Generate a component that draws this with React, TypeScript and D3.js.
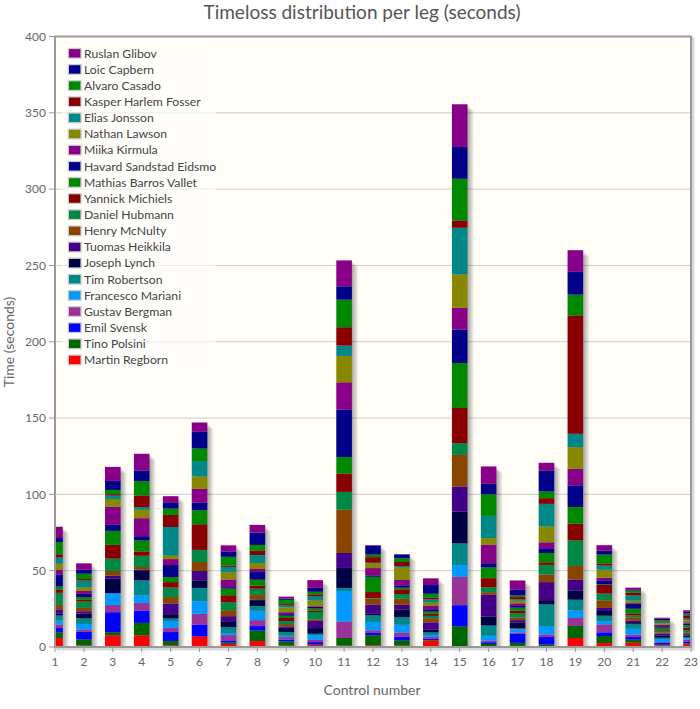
import React from 'react';
import * as d3 from 'd3';

const controls = [1,2,3,4,5,6,7,8,9,10,11,12,13,14,15,16,17,18,19,20,21,22,23];
const yTicks = [0,50,100,150,200,250,300,350,400];

// stacking order: bottom -> top
const runners = [
  'Martin Regborn','Tino Polsini','Emil Svensk','Gustav Bergman','Francesco Mariani',
  'Tim Robertson','Joseph Lynch','Tuomas Heikkila','Henry McNulty','Daniel Hubmann',
  'Yannick Michiels','Mathias Barros Vallet','Havard Sandstad Eidsmo','Miika Kirmula','Nathan Lawson',
  'Elias Jonsson','Kasper Harlem Fosser','Alvaro Casado','Loic Capbern','Ruslan Glibov'
];
const colors = [
  '#ff0000','#006600','#0000ff','#993399','#0099ff',
  '#008888','#000044','#440088','#884400','#008844',
  '#880000','#008800','#000088','#880088','#888800',
  '#008888','#880000','#008800','#000088','#880088'
];

const martin    = [5.9,1,7.7,7.7,1.1,7,2,3.9,0.9,1.3,0.9,1.1,0.9,4.2,0,0.3,0.7,0,5.9,2.6,2.8,1.1,2];
const tino      = [3.7,3.9,2,8.1,2.8,0,1,7,2.8,0.4,5,6.6,3.5,0.4,13.6,1.7,2,1.7,7.9,4.6,2,0.4,0.4];
const emil      = [2.8,5,13.1,7.9,5.9,7.7,1.3,2.8,1.1,1.5,0,1.5,2.2,0.7,13.8,1.1,5.9,4.8,0,2.4,1.7,1.3,1.3];
const gustav    = [2.2,1.5,4.8,5.2,2.8,7,3.5,3.9,1.7,1.5,10.9,1.7,2.8,1.3,18.6,1.1,0.9,1.7,5.2,5.2,1.7,0.4,1.1];
const francesco = [2.8,3.7,7.7,5,4.4,8.3,1.3,6.1,0.9,3.1,19.9,5.5,5.2,1.3,7.7,3.1,2,5.5,5,2,3.7,2,0.9];
const tim       = [3.3,3.7,0,9.8,1.7,8.7,3.9,3.1,2.4,0.9,2,4.4,5,1.7,14.2,6.8,0.7,14.2,7,3.7,3.3,0.9,0.9];
const joseph    = [1.1,3.1,9.4,6.1,2.8,5,3.9,3.9,2.8,3.7,13.1,0.9,5,1.7,20.8,5.9,3.7,2.8,6.1,3.1,1.1,1.3,0.9];
const tuomas    = [2.8,1.5,2,0.9,7,6.1,3.3,0.5,0.9,4.6,9.8,6.1,3.1,4.8,16.4,14.2,1.7,11.8,7,2,0.9,1.3,0.9];
const henry     = [3,2.2,3.1,1.7,4.2,5.9,3.9,2.8,1.5,1.1,28.4,3.9,3.9,2.8,20.8,1.7,1.7,5,9,5,2.2,0.9,0.9];
const daniel    = [7.9,4.2,8.1,7.4,6.3,7.9,5.2,4.2,2,4.8,11.6,0.4,3.1,1.5,7.7,3.3,2.8,6.3,16.8,4.4,1.3,1.1,1.7];
const yannick   = [2,1.1,9,2.8,3.5,16.8,4.6,2,2,0.9,12,3.9,3.1,1.3,23,5.9,1.7,1.7,10.9,5.7,1.3,0.9,1.7];
const mathias   = [2.2,1.7,9.2,7.2,3.3,9.2,4.4,3.9,1.5,1.5,10.9,10,1.1,1.5,29.5,7,2,6.1,10.9,0.4,3.1,1.1,1.5];
const havard    = [7.9,2.2,3.9,2.8,7.9,5,0.9,5,1,0.9,31,0.9,1.5,1.5,21.9,2.8,1.1,3.1,14.2,2.6,3.3,0.9,1.1];
const miika     = [3,2,11.8,11.8,3.9,9,5,2,1.3,0.5,17.9,4.8,3.5,2.2,14.2,12,1.7,3.9,10.9,1.7,0.4,0.9,0.9];
const nathan    = [3.9,2.4,5.2,5.5,2.2,8.1,5,3.9,3.1,3.7,17.3,3.1,8.1,2.2,21.9,4.4,1.7,10.3,14.2,5.2,1.7,1.1,1.3];
const elias     = [4.2,4.4,2.2,1.7,18.8,10.1,3.3,5.2,1.3,2.8,6.8,0.4,0.9,2.2,30.6,14.6,0.9,14.9,8.7,2.8,3.3,0.9,1.1];
const kasper    = [2,0.9,0.9,7.7,7.9,0,0.9,2.8,0.9,1.3,12,3.7,2.8,1,4.8,0,1.5,3.7,77.6,1.1,1.7,0.4,2.2];
const alvaro    = [8.1,3.5,2.8,9.4,4.2,8.3,5.7,3.9,2.8,1.7,18.1,1.7,2.4,2.6,27.3,14.2,1.1,4.4,13.6,6.1,1.5,0.7,1.1];
const loic      = [2.6,2.6,5.9,7,3.7,10.9,3.3,8.1,0.9,2.6,8.7,5.9,2.6,5.7,20.8,6.8,3.9,13.8,14.9,2.6,0.4,0.9,1.1];
const ruslan    = [7.4,4.2,9.2,10.9,4.4,6.1,4.2,5,1.2,5,17,0.3,0,4.4,28,11.4,5.9,5,14.2,3.5,1.5,0.7,1.1];

const seriesValues = [martin,tino,emil,gustav,francesco,tim,joseph,tuomas,henry,daniel,
  yannick,mathias,havard,miika,nathan,elias,kasper,alvaro,loic,ruslan];

const FONT = 'Lato, "DejaVu Sans", sans-serif';

export default function App() {
  const W = 700, H = 709;
  const left = 55, right = 691, top = 36.5, bottom = 647;
  const x = d3.scaleLinear().domain([1, 23]).range([left, right]);
  const y = d3.scaleLinear().domain([0, 400]).range([bottom, top]);
  const barW = 15.6;

  const table = controls.map((c, i) => {
    const row: any = { control: c };
    runners.forEach((r, j) => { row[r] = seriesValues[j][i]; });
    return row;
  });
  const stacked = d3.stack().keys(runners)(table);
  const totals = controls.map((_, i) => stacked[stacked.length - 1][i][1]);

  const shadowSteps = [1, 2, 3, 4, 5];

  return (
    <div style={{ position: 'absolute', left: 0, top: 0 }}>
      <svg width={W} height={H} style={{ display: 'block', fontFamily: FONT }}>
        <defs>
          <clipPath id="plotClip">
            <rect x={left} y={top} width={right - left} height={bottom - top} />
          </clipPath>
        </defs>
        <rect x={0} y={0} width={W} height={H} fill="#ffffff" />
        <text x={362} y={18.5} textAnchor="middle" fontSize={19} fill="#555555">
          Timeloss distribution per leg (seconds)
        </text>

        {/* grid shadow */}
        {shadowSteps.map(s => (
          <rect key={'gs' + s} x={left + s * 0.6} y={top + s * 0.6} width={right - left} height={bottom - top}
            fill="none" stroke="#000" strokeOpacity={0.05} strokeWidth={2} />
        ))}
        <rect x={left} y={top} width={right - left} height={bottom - top} fill="#fffdf6" />

        {yTicks.map(t => (
          <line key={'g' + t} x1={left} x2={right} y1={y(t)} y2={y(t)} stroke="#cccccc" strokeWidth={1} />
        ))}

        <g clipPath="url(#plotClip)">
          {controls.map((c, i) => (
            <g key={'sh' + c}>
              {shadowSteps.map(s => (
                <rect key={s} x={x(c) - barW / 2 + s * 1.2} y={y(totals[i]) + s * 1.2}
                  width={barW} height={bottom - y(totals[i])} fill="#000" fillOpacity={0.07} />
              ))}
            </g>
          ))}
          {stacked.map((layer, j) => (
            <g key={runners[j]} fill={colors[j]}>
              {layer.map((d, i) => (
                d[1] - d[0] > 0 ? (
                  <rect key={i} x={x(controls[i]) - barW / 2} y={y(d[1])} width={barW}
                    height={Math.max(0, y(d[0]) - y(d[1]))} />
                ) : null
              ))}
            </g>
          ))}
        </g>

        {/* border */}
        <rect x={left} y={top} width={right - left} height={bottom - top} fill="none" stroke="#999999" strokeWidth={2} />

        {/* y ticks */}
        {yTicks.map(t => (
          <g key={'yt' + t}>
            <line x1={49} x2={left} y1={y(t)} y2={y(t)} stroke="#999999" strokeWidth={1} />
            <text x={46} y={y(t)} dy="0.35em" textAnchor="end" fontSize={12} fill="#666666">{t}</text>
          </g>
        ))}
        {/* x ticks */}
        {controls.map(c => (
          <g key={'xt' + c}>
            <line x1={x(c)} x2={x(c)} y1={bottom} y2={bottom + 5} stroke="#999999" strokeWidth={1} />
            <text x={x(c)} y={662} dy="0.35em" textAnchor="middle" fontSize={12} fill="#666666">{c}</text>
          </g>
        ))}

        <text x={372} y={690} dy="0.35em" textAnchor="middle" fontSize={14} fill="#666666">Control number</text>
        <text transform={`translate(9,${342}) rotate(-90)`} textAnchor="middle" dy="0.35em" fontSize={14} fill="#666666">
          Time (seconds)
        </text>

        {/* legend */}
        <rect x={62} y={45} width={154} height={326} fill="#ffffff" fillOpacity={0.6} />
        {runners.slice().reverse().map((r, k) => {
          const idx = runners.length - 1 - k;
          const cy = 53.3 + k * 16.14;
          return (
            <g key={'lg' + r}>
              <rect x={67.7} y={cy - 5.5} width={14} height={11} fill="#cccccc" />
              <rect x={69} y={cy - 4.2} width={11.4} height={8.4} fill={colors[idx]} />
              <text x={84} y={cy} dy="0.35em" fontSize={12.2} fill="#444444">{r}</text>
            </g>
          );
        })}
      </svg>
    </div>
  );
}
